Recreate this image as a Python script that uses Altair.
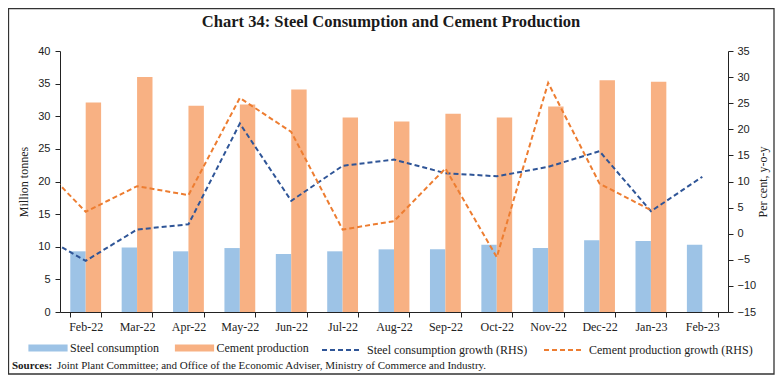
import altair as alt
import pandas as pd

# ---------------- data ----------------
months = ["Feb-22", "Mar-22", "Apr-22", "May-22", "Jun-22", "Jul-22", "Aug-22",
          "Sep-22", "Oct-22", "Nov-22", "Dec-22", "Jan-23", "Feb-23"]
steel_consumption = [9.3, 9.9, 9.3, 9.8, 8.9, 9.3, 9.6, 9.6, 10.3, 9.8, 11.0, 10.9, 10.3]
cement_production = [32.1, 36.0, 31.6, 31.8, 34.1, 29.8, 29.2, 30.4, 29.8, 31.5, 35.5, 35.3, None]

# growth series (RHS); the Jan-22 point only shows as the segment entering the plot
growth_months = ["Jan-22"] + months
steel_growth = [0.4, -5.2, 0.8, 1.8, 21.1, 6.3, 13.0, 14.2, 11.6, 11.0, 12.8, 15.8, 4.3, 10.9]
cement_growth = [14.4, 4.2, 9.1, 7.4, 26.0, 19.5, 0.8, 2.4, 12.5, -4.5, 28.9, 9.6, 4.5, None]

bar_series = ["Steel consumption", "Cement production"]
line_series = ["Steel consumption growth (RHS)", "Cement production growth (RHS)"]
bar_colors = ["#9DC3E6", "#F8B183"]
line_colors = ["#2F5597", "#ED7D31"]

left_ticks = [0, 5, 10, 15, 20, 25, 30, 35, 40]
right_ticks = [-15, -10, -5, 0, 5, 10, 15, 20, 25, 30, 35]

chart_title = "Chart 34: Steel Consumption and Cement Production"
source_label = "Sources:"
source_text = "Joint Plant Committee; and Office of the Economic Adviser, Ministry of Commerce and Industry."

# ---------------- tables ----------------
bar_rows = []
for m, s, c in zip(months, steel_consumption, cement_production):
    bar_rows.append({"Month": m, "Series": bar_series[0], "Value": s})
    if c is not None:
        bar_rows.append({"Month": m, "Series": bar_series[1], "Value": c})
bar_df = pd.DataFrame(bar_rows)

line_rows = []
for i, (m, s, c) in enumerate(zip(growth_months, steel_growth, cement_growth)):
    idx = i - 1
    line_rows.append({"Month": m, "Index": idx, "Series": line_series[0], "Growth": s})
    if c is not None:
        line_rows.append({"Month": m, "Index": idx, "Series": line_series[1], "Growth": c})
line_df = pd.DataFrame(line_rows)

W, H = 668, 261
SERIF = "Liberation Serif"
SANS = "Liberation Sans"

bars = alt.Chart(bar_df).mark_bar().encode(
    x=alt.X("Month:N", sort=months,
            scale=alt.Scale(paddingInner=0.4, paddingOuter=0.2),
            axis=alt.Axis(title=None, labelAngle=0, tickBand="extent", tickSize=5,
                          labelFont=SERIF, labelFontSize=12, labelColor="#222",
                          labelPadding=4, domainColor="#222", tickColor="#222")),
    xOffset=alt.XOffset("Series:N", sort=bar_series, scale=alt.Scale(domain=bar_series)),
    y=alt.Y("Value:Q", scale=alt.Scale(domain=[0, 40], nice=False),
            axis=alt.Axis(title="Million tonnes", orient="left", values=left_ticks,
                          tickSize=5, labelPadding=5, labelFont=SANS, labelFontSize=11,
                          labelColor="#222", titleFont=SERIF, titleFontSize=12,
                          titleFontWeight="normal", titleColor="#222", titlePadding=7,
                          domainColor="#222", tickColor="#222")),
    color=alt.Color("Series:N",
                    scale=alt.Scale(domain=bar_series, range=bar_colors),
                    legend=alt.Legend(title=None, orient="none", direction="horizontal",
                                      legendX=-18, legendY=291,
                                      symbolType="M-5.6,-1H5.6V1H-5.6Z", symbolSize=49,
                                      symbolStrokeWidth=0, labelOffset=16, columnPadding=15.5,
                                      labelFont=SERIF, labelFontSize=12, labelColor="#222",
                                      labelLimit=300)),
)

lines = alt.Chart(line_df).mark_line(strokeWidth=2, strokeDash=[5, 3], clip=True).encode(
    x=alt.X("Index:Q", scale=alt.Scale(domain=[-0.5, 12.5], nice=False, zero=False), axis=None),
    y=alt.Y("Growth:Q", scale=alt.Scale(domain=[-15, 35], nice=False, zero=False),
            axis=alt.Axis(title="Per cent, y-o-y", orient="right", values=right_ticks,
                          tickSize=5, labelPadding=4, labelFont=SANS, labelFontSize=11,
                          labelColor="#222", titleFont=SERIF, titleFontSize=12,
                          titleFontWeight="normal", titleColor="#222", titlePadding=14,
                          titleAngle=270, titleBaseline="bottom",
                          domainColor="#222", tickColor="#222")),
    color=alt.Color("Series:N",
                    scale=alt.Scale(domain=line_series, range=line_colors),
                    legend=alt.Legend(title=None, orient="none", direction="horizontal",
                                      legendX=261, legendY=278,
                                      symbolType="stroke", symbolSize=1600,
                                      symbolStrokeWidth=2, symbolDash=[5, 3],
                                      labelOffset=4, columnPadding=12,
                                      labelFont=SERIF, labelFontSize=12, labelColor="#222",
                                      labelLimit=300)),
)

title_mark = alt.Chart(pd.DataFrame({"t": [chart_title]})).mark_text(
    font=SERIF, fontSize=16.5, fontWeight="bold", align="center", baseline="middle", color="#1a1a1a"
).encode(text="t:N", x=alt.value(331), y=alt.value(-29))

src_label = alt.Chart(pd.DataFrame({"t": [source_label]})).mark_text(
    font=SERIF, fontSize=11, fontWeight="bold", align="left", baseline="middle", color="#1a1a1a"
).encode(text="t:N", x=alt.value(-48), y=alt.value(315))

src_text = alt.Chart(pd.DataFrame({"t": [source_text]})).mark_text(
    font=SERIF, fontSize=11, align="left", baseline="middle", color="#1a1a1a"
).encode(text="t:N", x=alt.value(-3), y=alt.value(315))

frame = alt.Chart(pd.DataFrame({"f": [0]})).mark_rect(
    fillOpacity=0, stroke="#333", strokeWidth=1.3
).encode(x=alt.value(-51.5), x2=alt.value(714), y=alt.value(-42.5), y2=alt.value(323))

chart = alt.layer(bars, lines, title_mark, src_label, src_text, frame).resolve_scale(
    x="independent", y="independent", color="independent"
).properties(
    width=W, height=H,
    autosize=alt.AutoSizeParams(type="none"),
    padding={"left": 52, "top": 43, "right": 48, "bottom": 63},
).configure_view(stroke=None).configure_axis(grid=False)

chart.save("out.html", embed_options={"renderer": "svg", "actions": False})
